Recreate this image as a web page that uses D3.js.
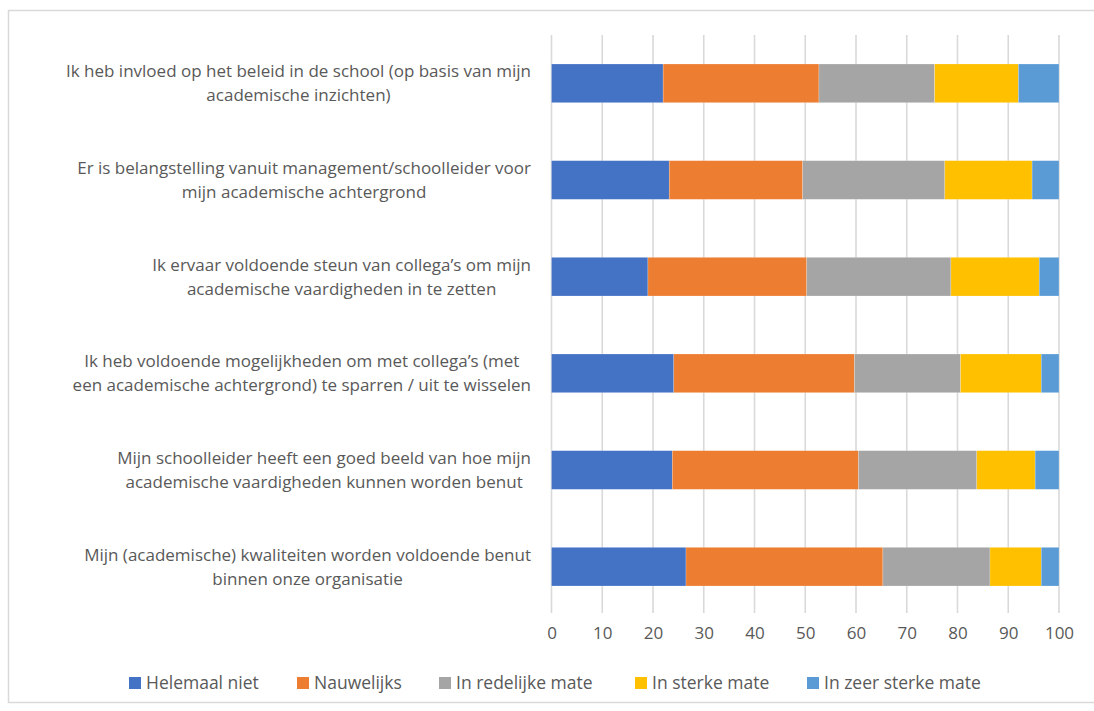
<!DOCTYPE html>
<html>
<head>
<meta charset="utf-8">
<script src="https://cdn.jsdelivr.net/npm/d3@7"></script>
<style>
  html, body { margin: 0; padding: 0; background: #fff; }
  svg { display: block; }
  text { font-family: "Open Sans", Lato, sans-serif; fill: #595959; }
</style>
</head>
<body>
<svg id="chart" width="1094" height="711"></svg>
<script>
const categories = [
  ["Ik heb invloed op het beleid in de school (op basis van mijn", "academische inzichten)"],
  ["Er is belangstelling vanuit management/schoolleider voor", "mijn academische achtergrond"],
  ["Ik ervaar voldoende steun van collega\u2019s om mijn", "academische vaardigheden in te zetten"],
  ["Ik heb voldoende mogelijkheden om met collega\u2019s (met", "een academische achtergrond) te sparren / uit te wisselen"],
  ["Mijn schoolleider heeft een goed beeld van hoe mijn", "academische vaardigheden kunnen worden benut"],
  ["Mijn (academische) kwaliteiten worden voldoende benut", "binnen onze organisatie"]
];
const seriesNames = ["Helemaal niet", "Nauwelijks", "In redelijke mate", "In sterke mate", "In zeer sterke mate"];
const helemaalNiet = [22.0, 23.2, 19.0, 24.1, 23.8, 26.5];
const nauwelijks   = [30.7, 26.3, 31.3, 35.6, 36.7, 38.8];
const redelijk     = [22.8, 28.0, 28.4, 20.9, 23.3, 21.1];
const sterk        = [16.5, 17.2, 17.4, 15.9, 11.5, 10.1];
const zeerSterk    = [8.0, 5.3, 3.9, 3.5, 4.7, 3.5];
const xTicks = [0, 10, 20, 30, 40, 50, 60, 70, 80, 90, 100];
const colors = ["#4472C4", "#ED7D31", "#A5A5A5", "#FFC000", "#5B9BD5"];

(function () {
const FONT = "'Open Sans', Lato, sans-serif";
const seriesValues = [helemaalNiet, nauwelijks, redelijk, sterk, zeerSterk];
const table = categories.map((c, i) => {
  const row = { idx: i };
  seriesNames.forEach((s, j) => row[s] = seriesValues[j][i]);
  return row;
});
const stacked = d3.stack().keys(seriesNames)(table);

const svg = d3.select("#chart");

// chart border
svg.append("rect").attr("x", 8.5).attr("y", 10.5).attr("width", 1100).attr("height", 692)
  .attr("fill", "none").attr("stroke", "#d9d9d9").attr("stroke-width", 1.5);

const pLeft = 551.5, pRight = 1059, pTop = 35, pBottom = 615;
const x = d3.scaleLinear().domain([0, 100]).range([pLeft, pRight]);
const y = d3.scaleBand().domain(d3.range(categories.length)).range([pTop, pBottom]).paddingInner(0.6).paddingOuter(0.3);

// gridlines
svg.append("g").selectAll("line").data(xTicks).join("line")
  .attr("x1", d => x(d)).attr("x2", d => x(d))
  .attr("y1", pTop).attr("y2", pBottom - 2)
  .attr("stroke", "#d9d9d9").attr("stroke-width", 1.6);

// bars
svg.append("g").selectAll("g").data(stacked).join("g")
  .attr("fill", (d, i) => colors[i])
  .selectAll("rect").data(d => d).join("rect")
  .attr("x", d => x(d[0]))
  .attr("width", d => x(d[1]) - x(d[0]))
  .attr("y", (d, i) => y(i))
  .attr("height", y.bandwidth())
  .attr("stroke", "#ffffff").attr("stroke-opacity", 0.35).attr("stroke-width", 0.6);

// x axis tick labels
const xAxis = d3.axisBottom(x).tickValues(xTicks).tickSize(0).tickPadding(0);
const gx = svg.append("g").attr("transform", `translate(0, ${pBottom + 16})`).call(xAxis);
gx.select(".domain").remove();
gx.selectAll("text").style("font-family", FONT).style("font-size", "17px")
  .attr("fill", "#595959").attr("dy", "0.45em");

// category labels: block right aligned, lines centered within block
const labelRight = 531;
const lblG = svg.append("g");
categories.forEach((lines, i) => {
  const cy = y(i) + y.bandwidth() / 2;
  const t = lblG.append("text").attr("font-size", "17px").attr("text-anchor", "middle");
  lines.forEach((ln, k) => {
    t.append("tspan").attr("x", 0).attr("y", cy + (k - (lines.length - 1) / 2) * 24).attr("dy", "0.35em").text(ln);
  });
  const w = t.node().getBBox().width;
  t.selectAll("tspan").attr("x", labelRight - w / 2);
});

// legend
const legendX = [129, 297, 439, 635, 807];
const lg = svg.append("g");
seriesNames.forEach((s, i) => {
  lg.append("rect").attr("x", legendX[i]).attr("y", 677).attr("width", 12).attr("height", 12).attr("fill", colors[i]);
  lg.append("text").attr("x", legendX[i] + 17).attr("y", 683).attr("dy", "0.35em")
    .attr("font-size", "17.5px").text(s);
});
})();
</script>
</body>
</html>
